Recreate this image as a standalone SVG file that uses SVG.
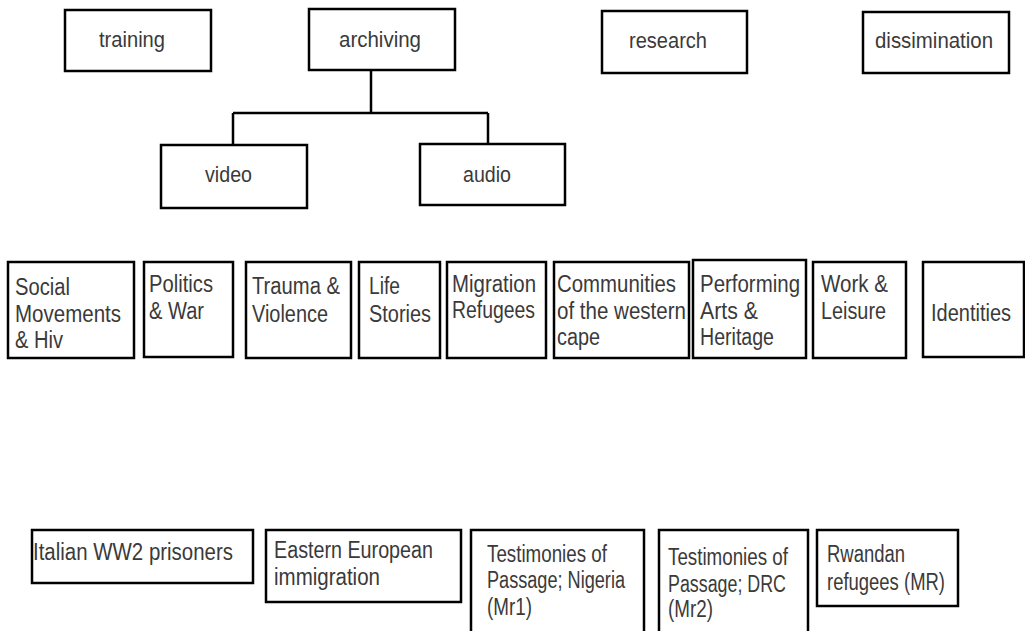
<svg xmlns="http://www.w3.org/2000/svg" width="1025" height="631" viewBox="0 0 1025 631">
<style>
.box{fill:#fff;stroke:#000;stroke-width:2.5}
.open{fill:none;stroke:#000;stroke-width:2.5}
.conn{fill:none;stroke:#000;stroke-width:2.5}
text{font-family:"Liberation Sans",Arial,sans-serif;fill:#3a3a3a}
.t1{font-size:22px}
.t2{font-size:23px}
.t3{font-size:23px}
</style>
<rect width="1025" height="631" fill="#fff"/>
<g id="connectors">
<path class="conn" d="M371 68 V113 M233 113 H488 M233 113 V145 M488 113 V145"/>
</g>
<g id="training"><rect class="box" x="65" y="10" width="146" height="61"/><text class="t1" x="99" y="47" textLength="66" lengthAdjust="spacingAndGlyphs">training</text></g>
<g id="archiving"><rect class="box" x="309" y="9" width="146" height="61"/><text class="t1" x="339" y="47" textLength="82" lengthAdjust="spacingAndGlyphs">archiving</text></g>
<g id="research"><rect class="box" x="602" y="11" width="145" height="62"/><text class="t1" x="629" y="48" textLength="78" lengthAdjust="spacingAndGlyphs">research</text></g>
<g id="dissimination"><rect class="box" x="863" y="12" width="146" height="61"/><text class="t1" x="875" y="48" textLength="118" lengthAdjust="spacingAndGlyphs">dissimination</text></g>
<g id="video"><rect class="box" x="161" y="145" width="146" height="63"/><text class="t1" x="205" y="182" textLength="47" lengthAdjust="spacingAndGlyphs">video</text></g>
<g id="audio"><rect class="box" x="420" y="144" width="145" height="61"/><text class="t1" x="463" y="182" textLength="48" lengthAdjust="spacingAndGlyphs">audio</text></g>

<g id="social"><rect class="box" x="8" y="262" width="126" height="96"/>
<text class="t2" x="15" y="295" textLength="55" lengthAdjust="spacingAndGlyphs">Social</text>
<text class="t2" x="15" y="322" textLength="106" lengthAdjust="spacingAndGlyphs">Movements</text>
<text class="t2" x="15" y="348" textLength="48" lengthAdjust="spacingAndGlyphs">&amp; Hiv</text></g>
<g id="politics"><rect class="box" x="144" y="262" width="89" height="95"/>
<text class="t2" x="149" y="292" textLength="64" lengthAdjust="spacingAndGlyphs">Politics</text>
<text class="t2" x="149" y="319" textLength="55" lengthAdjust="spacingAndGlyphs">&amp; War</text></g>
<g id="trauma"><rect class="box" x="246" y="262" width="105" height="96"/>
<text class="t2" x="252" y="294" textLength="88" lengthAdjust="spacingAndGlyphs">Trauma &amp;</text>
<text class="t2" x="252" y="322" textLength="76" lengthAdjust="spacingAndGlyphs">Violence</text></g>
<g id="life"><rect class="box" x="359" y="262" width="81" height="96"/>
<text class="t2" x="369" y="294" textLength="31" lengthAdjust="spacingAndGlyphs">Life</text>
<text class="t2" x="369" y="322" textLength="62" lengthAdjust="spacingAndGlyphs">Stories</text></g>
<g id="migration"><rect class="box" x="447" y="262" width="99" height="96"/>
<text class="t2" x="452" y="292" textLength="84" lengthAdjust="spacingAndGlyphs">Migration</text>
<text class="t2" x="452" y="318" textLength="83" lengthAdjust="spacingAndGlyphs">Refugees</text></g>
<g id="communities"><rect class="box" x="554" y="262" width="135" height="96"/>
<text class="t2" x="557" y="292" textLength="119" lengthAdjust="spacingAndGlyphs">Communities</text>
<text class="t2" x="557" y="319" textLength="129" lengthAdjust="spacingAndGlyphs">of the western</text>
<text class="t2" x="557" y="345" textLength="43" lengthAdjust="spacingAndGlyphs">cape</text></g>
<g id="performing"><rect class="box" x="693" y="260" width="113" height="98"/>
<text class="t2" x="700" y="292" textLength="100" lengthAdjust="spacingAndGlyphs">Performing</text>
<text class="t2" x="700" y="319" textLength="58" lengthAdjust="spacingAndGlyphs">Arts &amp;</text>
<text class="t2" x="700" y="345" textLength="74" lengthAdjust="spacingAndGlyphs">Heritage</text></g>
<g id="work"><rect class="box" x="813" y="262" width="93" height="96"/>
<text class="t2" x="821" y="292" textLength="67" lengthAdjust="spacingAndGlyphs">Work &amp;</text>
<text class="t2" x="821" y="319" textLength="65" lengthAdjust="spacingAndGlyphs">Leisure</text></g>
<g id="identities"><rect class="box" x="923" y="262" width="101" height="95"/>
<text class="t2" x="931" y="321" textLength="80" lengthAdjust="spacingAndGlyphs">Identities</text></g>

<g id="italian"><rect class="box" x="32" y="530" width="221" height="53"/>
<text class="t3" x="33" y="560" textLength="200" lengthAdjust="spacingAndGlyphs">Italian WW2 prisoners</text></g>
<g id="eastern"><rect class="box" x="266" y="530" width="195" height="72"/>
<text class="t3" x="274" y="558" textLength="159" lengthAdjust="spacingAndGlyphs">Eastern European</text>
<text class="t3" x="274" y="585" textLength="106" lengthAdjust="spacingAndGlyphs">immigration</text></g>
<g id="nigeria"><path class="open" d="M471 633 V530 H644 V633"/>
<text class="t3" x="487" y="562" textLength="120" lengthAdjust="spacingAndGlyphs">Testimonies of</text>
<text class="t3" x="487" y="588" textLength="138" lengthAdjust="spacingAndGlyphs">Passage; Nigeria</text>
<text class="t3" x="487" y="615" textLength="45" lengthAdjust="spacingAndGlyphs">(Mr1)</text></g>
<g id="drc"><path class="open" d="M659 633 V530 H808 V633"/>
<text class="t3" x="668" y="565" textLength="120" lengthAdjust="spacingAndGlyphs">Testimonies of</text>
<text class="t3" x="668" y="592" textLength="118" lengthAdjust="spacingAndGlyphs">Passage; DRC</text>
<text class="t3" x="668" y="617" textLength="45" lengthAdjust="spacingAndGlyphs">(Mr2)</text></g>
<g id="rwandan"><rect class="box" x="817" y="530" width="141" height="76"/>
<text class="t3" x="827" y="562" textLength="78" lengthAdjust="spacingAndGlyphs">Rwandan</text>
<text class="t3" x="827" y="590" textLength="118" lengthAdjust="spacingAndGlyphs">refugees (MR)</text></g>
</svg>
